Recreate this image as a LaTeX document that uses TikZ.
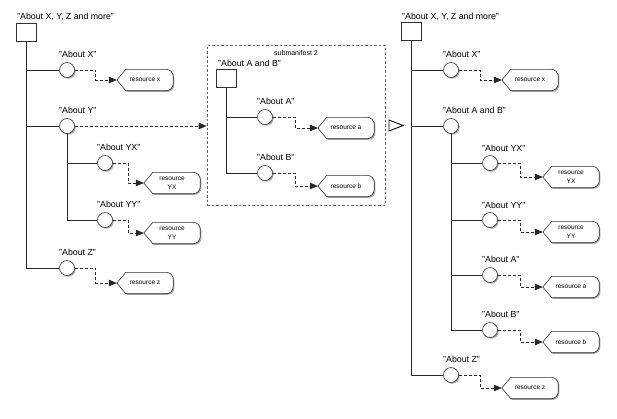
\documentclass[tikz,border=0pt]{standalone}
\usepackage{fontspec}
\setmainfont{Liberation Sans}
\usetikzlibrary{arrows.meta,shadows,backgrounds,calc}
\tikzset{
  shad/.style={drop shadow={shadow xshift=1.2pt,shadow yshift=-1.2pt,opacity=0.35,fill=black}},
  circ/.style={circle,draw=black!80,fill=white,minimum size=15pt,inner sep=0,line width=0.6pt,shad},
  sq/.style={rectangle,draw=black!80,fill=white,minimum width=20pt,minimum height=18pt,inner sep=0,line width=0.6pt,shad},
  lbl/.style={anchor=base west,inner sep=0,font=\fontsize{8.8}{10}\selectfont},
  res/.style={minimum width=56pt,minimum height=21pt,inner sep=0,align=center,font=\fontsize{6.5}{8.5}\selectfont},
  resshape/.style={draw=black!80,fill=white,line width=0.6pt,shad},
  tree/.style={draw=black!85,line width=0.7pt},
  link/.style={draw=black!85,line width=0.7pt,dash pattern=on 3pt off 2pt,-{Triangle[length=8pt,width=6.5pt]}},
}
\newcommand\resoutline[1]{\path[resshape] (#1.west) -- ([xshift=9pt]#1.north west) -- ([xshift=-7pt]#1.north east) arc[start angle=90,end angle=0,radius=7pt] -- ([yshift=7pt]#1.south east) arc[start angle=0,end angle=-90,radius=7pt] -- ([xshift=9pt]#1.south west) -- cycle;}
\begin{document}
\begin{tikzpicture}[x=1pt,y=-1pt]
\useasboundingbox (0,0) rectangle (617,418);
% ---------- left tree ----------
\node[sq] (L0) at (26,32) {};
\node[lbl] (L0l) at (17,19) {"About X, Y, Z and more"};
\node[circ] (Lx) at (67,70) {};
\node[lbl] (Lxl) at (59,57) {"About X"};
\node[res] (Lrx) at (145,80) {resource x};
\node[circ] (Ly) at (67,126) {};
\node[lbl] (Lyl) at (59,113) {"About Y"};
\node[circ] (Lyx) at (105,163) {};
\node[lbl] (Lyxl) at (97,150) {"About YX"};
\node[res] (Lryx) at (172,183) {resource\\YX};
\node[circ] (Lyy) at (105,220) {};
\node[lbl] (Lyyl) at (97,207) {"About YY"};
\node[res] (Lryy) at (172,233) {resource\\YY};
\node[circ] (Lz) at (67,268) {};
\node[lbl] (Lzl) at (59,255) {"About Z"};
\node[res] (Lrz) at (145,283) {resource z};
% ---------- submanifest ----------
\node[draw=black!60,line width=0.6pt,dash pattern=on 2.5pt off 2pt,minimum width=178pt,minimum height=160pt,inner sep=0] (sub) at (296,125) {};
\node[anchor=base,inner sep=0,font=\fontsize{7}{8}\selectfont] (subt) at (296,55) {submanifest 2};
\node[sq] (S0) at (226,78) {};
\node[lbl] (S0l) at (218,66) {"About A and B"};
\node[circ] (Sa) at (265,117) {};
\node[lbl] (Sal) at (257,104) {"About A"};
\node[res] (Sra) at (346,128) {resource a};
\node[circ] (Sb) at (265,173) {};
\node[lbl] (Sbl) at (257,160) {"About B"};
\node[res] (Srb) at (346,186) {resource b};
% ---------- right tree ----------
\node[sq] (R0) at (411,31) {};
\node[lbl] (R0l) at (402,19) {"About X, Y, Z and more"};
\node[circ] (Rx) at (451,70) {};
\node[lbl] (Rxl) at (443,57) {"About X"};
\node[res] (Rrx) at (530,80) {resource x};
\node[circ] (Rab) at (451,126) {};
\node[lbl] (Rabl) at (443,113) {"About A and B"};
\node[circ] (Ryx) at (490,163) {};
\node[lbl] (Ryxl) at (482,151) {"About YX"};
\node[res] (Rryx) at (571,177) {resource\\YX};
\node[circ] (Ryy) at (490,220) {};
\node[lbl] (Ryyl) at (482,208) {"About YY"};
\node[res] (Rryy) at (571,232) {resource\\YY};
\node[circ] (Ra) at (490,275) {};
\node[lbl] (Ral) at (482,262) {"About A"};
\node[res] (Rra) at (571,287) {resource a};
\node[circ] (Rb) at (490,330) {};
\node[lbl] (Rbl) at (482,317) {"About B"};
\node[res] (Rrb) at (571,342) {resource b};
\node[circ] (Rz) at (451,375) {};
\node[lbl] (Rzl) at (443,362) {"About Z"};
\node[res] (Rrz) at (530,388) {resource z};
% ---------- resource outlines ----------
\begin{scope}[on background layer]
\foreach \r in {Lrx,Lryx,Lryy,Lrz,Sra,Srb,Rrx,Rryx,Rryy,Rra,Rrb,Rrz}{\resoutline{\r}}
\end{scope}
% ---------- tree connectors ----------
\draw[tree] (L0.south) |- (Lz.west);
\draw[tree] (L0.south |- Lx.west) -- (Lx.west);
\draw[tree] (L0.south |- Ly.west) -- (Ly.west);
\draw[tree] (Ly.south) |- (Lyy.west);
\draw[tree] (Ly.south |- Lyx.west) -- (Lyx.west);
\draw[tree] (S0.south) |- (Sb.west);
\draw[tree] (S0.south |- Sa.west) -- (Sa.west);
\draw[tree] (R0.south) |- (Rz.west);
\draw[tree] (R0.south |- Rx.west) -- (Rx.west);
\draw[tree] (R0.south |- Rab.west) -- (Rab.west);
\draw[tree] (Rab.south) |- (Rb.west);
\draw[tree] (Rab.south |- Ryx.west) -- (Ryx.west);
\draw[tree] (Rab.south |- Ryy.west) -- (Ryy.west);
\draw[tree] (Rab.south |- Ra.west) -- (Ra.west);
% ---------- dashed links ----------
\foreach \a/\b in {Lx/Lrx,Lyx/Lryx,Lyy/Lryy,Lz/Lrz,Sa/Sra,Sb/Srb,Rx/Rrx,Ryx/Rryx,Ryy/Rryy,Ra/Rra,Rb/Rrb,Rz/Rrz}{
  \draw[link] (\a.east) -| ($(\a.east)!.5!(\b.west)$) |- (\b.west);
}
\draw[link] (Ly.east) -- (Ly.east -| sub.west);
% ---------- open triangle ----------
\draw[black,line width=0.9pt,fill=white] (389,120) -- (403,125.5) -- (389,131) -- cycle;
\end{tikzpicture}
\end{document}
